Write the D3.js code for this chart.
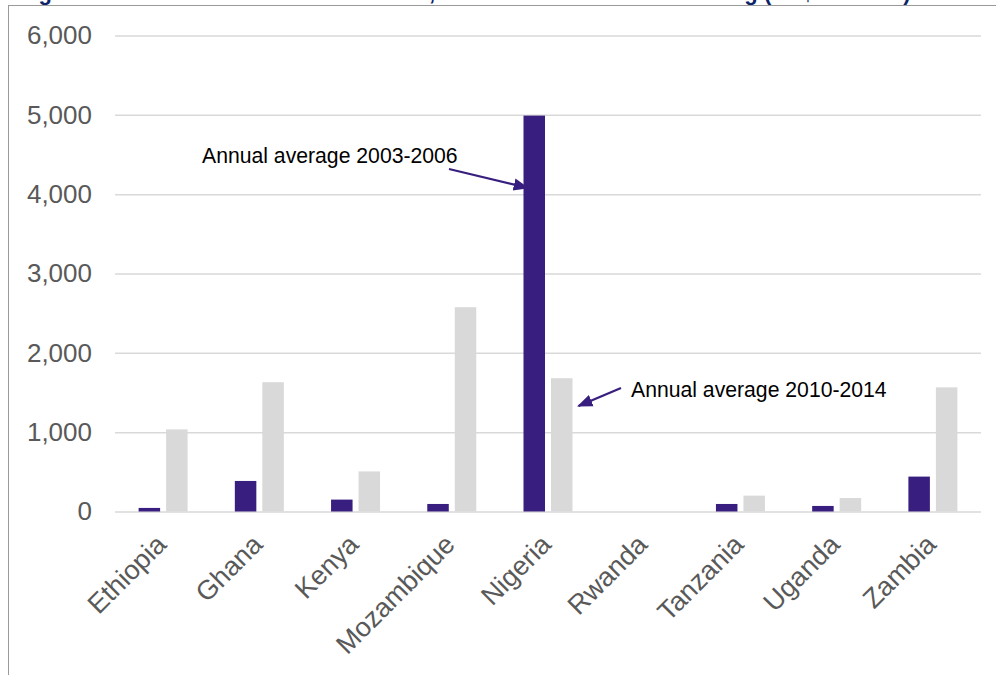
<!DOCTYPE html>
<html>
<head>
<meta charset="utf-8">
<script src="https://cdn.jsdelivr.net/npm/d3@7"></script>
<style>
  html, body { margin: 0; padding: 0; background: #fff; }
  svg { display: block; font-family: "Liberation Sans", Arial, sans-serif; }
</style>
</head>
<body>
<div class="container"></div>
<script>
// values in US$ million
const countries = ['Ethiopia', 'Ghana', 'Kenya', 'Mozambique', 'Nigeria', 'Rwanda', 'Tanzania', 'Uganda', 'Zambia'];
const avg2003_2006 = [45, 385, 150, 95, 4990, 0, 95, 70, 440];
const avg2010_2014 = [1035, 1630, 505, 2575, 1680, 0, 200, 170, 1565];
const seriesNames = ['Annual average 2003-2006', 'Annual average 2010-2014'];
const yTicks = [0, 1000, 2000, 3000, 4000, 5000, 6000];

const w = 996;
const h = 675;

const margin = {
    top: 35.5,
    right: 15,
    bottom: 163.5,
    left: 115
}

const purple = '#381e7f';
const grey = '#d9d9d9';

const svg = d3.select('.container')
    .append('svg')
    .attr('width', w)
    .attr('height', h)
    .attr('viewBox', [0, 0, w, h]);

// title sits above the frame, only its bottom edge shows
svg.append('text')
    .attr('x', 19)
    .attr('y', 0)
    .style('font-size', '22px')
    .style('font-weight', 'bold')
    .attr('fill', '#0d2468')
    .text('Figure 4: Annual bank credit to farmers, total commercial bank lending (US$ millions)');

// chart frame
svg.append('rect')
    .attr('x', 8.5)
    .attr('y', 5.5)
    .attr('width', 1000)
    .attr('height', 700)
    .attr('fill', 'none')
    .attr('stroke', '#9a9a9a')
    .attr('stroke-width', 1);

const x = d3.scaleBand()
    .domain(countries)
    .range([margin.left, w - margin.right])
    .padding(0);

const xInner = d3.scaleBand()
    .domain(seriesNames)
    .range([-24.5, 24.5])
    .paddingInner(0.218);

const y = d3.scaleLinear()
    .domain([0, 6000])
    .range([h - margin.bottom, margin.top]);

const yAxis = svg.append('g')
    .attr('transform', `translate(${margin.left}, 0)`)
    .call(d3.axisLeft(y)
        .tickValues(yTicks)
        .tickFormat(d3.format(','))
        .tickSize(-(w - margin.right - margin.left))
        .tickPadding(23));

yAxis.select('.domain').remove();
yAxis.selectAll('line')
    .attr('stroke', grey)
    .attr('stroke-width', 1.5);
yAxis.selectAll('text')
    .attr('fill', '#595959')
    .style('font-size', '26px')
    .style('font-family', '"Liberation Sans", Arial, sans-serif');

const rows = countries.map((c, i) => ({ country: c, values: [avg2003_2006[i], avg2010_2014[i]] }));
const color = d3.scaleOrdinal().domain(seriesNames).range([purple, grey]);

const group = svg.selectAll('g.country')
    .data(rows)
    .join('g')
    .attr('class', 'country')
    .attr('transform', d => `translate(${x(d.country) + x.bandwidth() / 2}, 0)`);

group.selectAll('rect')
    .data(d => d.values.map((v, k) => ({ key: seriesNames[k], value: v })))
    .join('rect')
    .attr('x', d => xInner(d.key))
    .attr('y', d => y(d.value))
    .attr('width', xInner.bandwidth())
    .attr('height', d => y(0) - y(d.value))
    .attr('fill', d => color(d.key));

// rotated category labels
svg.append('g')
    .selectAll('text')
    .data(countries)
    .join('text')
    .attr('text-anchor', 'end')
    .attr('transform', d => `translate(${x(d) + x.bandwidth() / 2 - 2}, ${y(0) + 28}) rotate(-45)`)
    .attr('dy', '0.35em')
    .attr('fill', '#595959')
    .style('font-size', '27px')
    .text(d => d);

// annotations with arrows
svg.append('defs')
    .append('marker')
    .attr('id', 'arrowhead')
    .attr('viewBox', '0 0 10 10')
    .attr('refX', 9)
    .attr('refY', 5)
    .attr('markerWidth', 7)
    .attr('markerHeight', 7)
    .attr('markerUnits', 'strokeWidth')
    .attr('orient', 'auto')
    .append('path')
    .attr('d', 'M0,1 L10,5 L0,9 Z')
    .attr('fill', purple);

const nigeriaX = x('Nigeria') + x.bandwidth() / 2;

const notes = [
    {
        text: seriesNames[0],
        tx: 202, ty: 163,
        from: [449, 169],
        to: [nigeriaX + xInner(seriesNames[0]) + 4, y(4080)]
    },
    {
        text: seriesNames[1],
        tx: 631, ty: 397,
        from: [621, 388],
        to: [nigeriaX + xInner(seriesNames[1]) + xInner.bandwidth() + 6, y(1330)]
    }
];

svg.append('g')
    .selectAll('line')
    .data(notes)
    .join('line')
    .attr('x1', d => d.from[0])
    .attr('y1', d => d.from[1])
    .attr('x2', d => d.to[0])
    .attr('y2', d => d.to[1])
    .attr('stroke', purple)
    .attr('stroke-width', 2.2)
    .attr('marker-end', 'url(#arrowhead)');

svg.append('g')
    .selectAll('text')
    .data(notes)
    .join('text')
    .attr('x', d => d.tx)
    .attr('y', d => d.ty)
    .attr('fill', '#000')
    .style('font-size', '21.2px')
    .text(d => d.text);
</script>
</body>
</html>
